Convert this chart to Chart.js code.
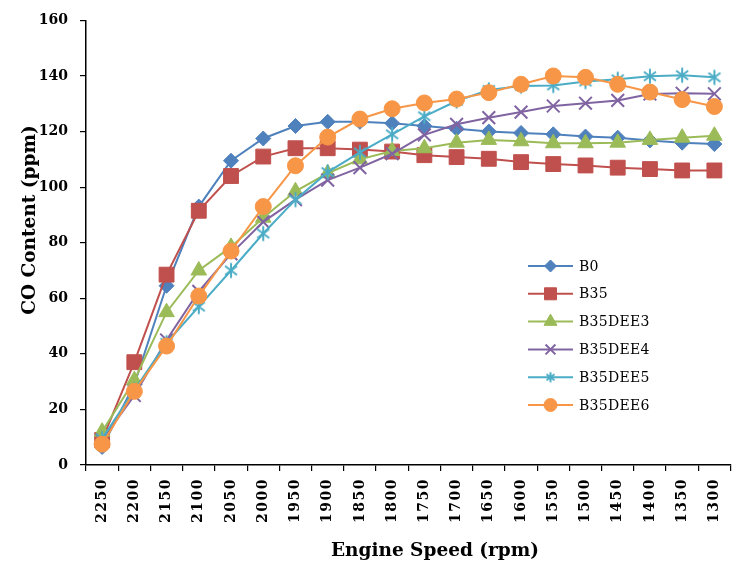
<!DOCTYPE html>
<html><head><meta charset="utf-8">
<script src="https://cdn.jsdelivr.net/npm/chart.js@4/dist/chart.umd.min.js"></script>
<style>html,body{margin:0;padding:0;background:#fff}canvas{display:block}</style>
</head><body>
<canvas id="c" width="742" height="567"></canvas>
<script>
const speeds = ['2250','2200','2150','2100','2050','2000','1950','1900','1850','1800','1750','1700','1650','1600','1550','1500','1450','1400','1350','1300'];
const yTicks = [0,20,40,60,80,100,120,140,160];
const seriesNames = ['B0','B35','B35DEE3','B35DEE4','B35DEE5','B35DEE6'];
const b0      = [6.5, 29, 64.5, 93, 109.5, 117.5, 122, 123.5, 123.5, 123, 122, 121, 120, 119.5, 119, 118.2, 117.8, 116.8, 116, 115.5];
const b35     = [9, 37, 68.5, 91.5, 104, 111, 114, 114, 113.5, 112.8, 111.5, 110.8, 110.2, 109, 108.3, 107.8, 107, 106.5, 106, 106];
const b35dee3 = [12, 30.5, 55, 70, 78.5, 89, 98.5, 105, 110, 113, 114, 116, 117, 116.5, 115.8, 115.8, 116, 117, 117.8, 118.5];
const b35dee4 = [9, 25, 45, 62.5, 76, 87.5, 95.5, 102.5, 107, 112, 118.8, 122.6, 125, 127, 129.2, 130.2, 131.2, 133.5, 133.8, 133.6];
const b35dee5 = [9.5, 27, 44, 57, 70, 83.3, 95.5, 105.4, 112.5, 119, 125.5, 131, 135, 136.4, 136.6, 138, 138.8, 139.9, 140.3, 139.5];
const b35dee6 = [7.5, 26.5, 42.8, 60.8, 77, 93, 107.7, 118, 124.5, 128.2, 130.3, 131.7, 134, 137, 140, 139.5, 137, 134.2, 131.5, 129];
const yTitle = 'CO Content (ppm)';
const xTitle = 'Engine Speed (rpm)';

const colors = ['#4F81BD','#C0504D','#9BBB59','#8064A2','#4BACC6','#F79646'];

function asterisk(size, color){
  const c = document.createElement('canvas');
  c.width = size; c.height = size;
  const g = c.getContext('2d');
  const m = size/2, r = size/2 - 1.5;
  g.strokeStyle = color; g.lineWidth = 2;
  g.beginPath();
  g.moveTo(m, m - r); g.lineTo(m, m + r);
  const d = r * 0.8;
  g.moveTo(m - d, m - d*0.75); g.lineTo(m + d, m + d*0.75);
  g.moveTo(m - d, m + d*0.75); g.lineTo(m + d, m - d*0.75);
  g.stroke();
  return c;
}
const starBig = asterisk(18, colors[4]);
const starSmall = asterisk(13, colors[4]);

const styles = [
  {ps:'rectRot', r:7.5, lps:'rectRot', lr:6},
  {ps:'rect', r:10.5, lps:'rect', lr:8.5},
  {ps:'triangle', r:9, lps:'triangle', lr:7.5},
  {ps:'crossRot', r:9, lps:'crossRot', lr:7},
  {ps:starBig, r:9, lps:starSmall, lr:7},
  {ps:'circle', r:8, lps:'circle', lr:6.5}
];
const allData = [b0,b35,b35dee3,b35dee4,b35dee5,b35dee6];

const datasets = allData.map((d,i)=>({
  label: seriesNames[i],
  data: d,
  borderColor: colors[i],
  backgroundColor: colors[i],
  pointBackgroundColor: colors[i],
  pointBorderColor: colors[i],
  pointStyle: styles[i].ps,
  pointRadius: styles[i].r,
  pointBorderWidth: (i===3)?2:1,
  borderWidth: 2,
  tension: 0,
  order: 6 - i
}));

const serif = "'DejaVu Serif', 'Liberation Serif', serif";

const customPlugin = {
  id: 'custom',
  afterLayout(chart){
    const s = chart.scales.x;
    if (!s._lsPatched){
      const orig = s.drawLabels.bind(s);
      s.drawLabels = function(area){
        const ctx = this.ctx; ctx.save(); ctx.letterSpacing = '1.5px'; orig(area); ctx.restore();
      };
      s._lsPatched = true;
    }
  },
  afterDraw(chart){
    const ctx = chart.ctx;
    ctx.save();
    ctx.fillStyle = '#000';
    ctx.font = "bold 18.5px " + serif;
    ctx.textAlign = 'center'; ctx.textBaseline = 'middle';
    ctx.fillText(xTitle, 435, 551);
    ctx.translate(30, 220); ctx.rotate(-Math.PI/2);
    ctx.fillText(yTitle, 0, 0);
    ctx.restore();
    ctx.save();
    const x0 = 528, x1 = 573, y0 = 266, dy = 27.8;
    chart.data.datasets.forEach((ds,i)=>{
      const y = y0 + i*dy;
      ctx.strokeStyle = ds.borderColor; ctx.lineWidth = 2;
      ctx.beginPath(); ctx.moveTo(x0, y); ctx.lineTo(x1, y); ctx.stroke();
      ctx.fillStyle = ds.backgroundColor; ctx.strokeStyle = ds.borderColor;
      const bw = (i===3)?2:1;
      ctx.lineWidth = bw;
      Chart.helpers.drawPoint(ctx, {pointStyle: styles[i].lps, radius: styles[i].lr, rotation: 0, borderWidth: bw}, (x0+x1)/2, y);
      ctx.fillStyle = '#000';
      ctx.font = "14px " + serif;
      ctx.letterSpacing = '0.3px';
      ctx.textAlign = 'left'; ctx.textBaseline = 'middle';
      ctx.fillText(ds.label, 579, y + 1);
      ctx.letterSpacing = '0px';
    });
    ctx.restore();
  }
};

new Chart(document.getElementById('c'), {
  type: 'line',
  data: { labels: speeds, datasets },
  options: {
    responsive: false,
    animation: false,
    layout: { padding: { top: 9, right: 0, left: 0, bottom: 0 } },
    plugins: { legend: { display: false }, tooltip: { enabled: false } },
    scales: {
      x: {
        offset: true,
        grid: { offset: true, drawOnChartArea: false, drawTicks: true, tickLength: 6, color: '#000', lineWidth: 1.2 },
        border: { display: true, color: '#000', width: 1.5 },
        ticks: { color: '#000', font: { family: serif, size: 14, weight: 'bold' }, minRotation: 90, maxRotation: 90, padding: 7, autoSkip: false },
        afterFit(s){ s.height = 102; }
      },
      y: {
        min: 0, max: 160,
        afterBuildTicks(s){ s.ticks = yTicks.map(v=>({value:v})); },
        grid: { drawOnChartArea: false, drawTicks: true, tickLength: 6, color: '#000', lineWidth: 1.2 },
        border: { display: true, color: '#000', width: 1.5 },
        ticks: { color: '#000', font: { family: serif, size: 14, weight: 'bold' }, padding: 12 },
        afterFit(s){ s.width = 86; }
      }
    }
  },
  plugins: [customPlugin]
});
</script>
</body></html>
